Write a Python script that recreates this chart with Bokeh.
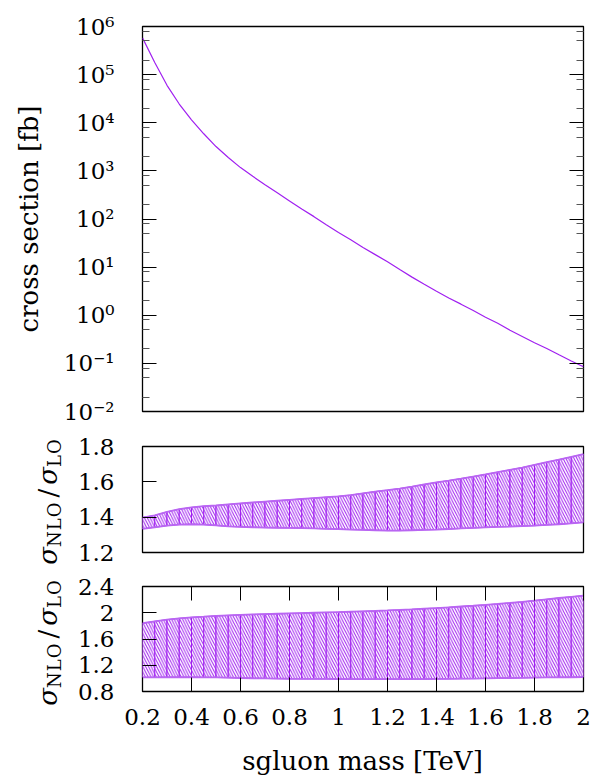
from bokeh.plotting import figure
from bokeh.layouts import column, row
from bokeh.models import FixedTicker, LogAxis, LinearAxis, Range1d, Div
from bokeh.embed import file_html
from bokeh.resources import INLINE

# ---------------- data ----------------
mass = [0.2, 0.25, 0.3, 0.35, 0.4, 0.45, 0.5, 0.55, 0.6, 0.65, 0.7, 0.75, 0.8, 0.85,
        0.9, 0.95, 1.0, 1.05, 1.1, 1.15, 1.2, 1.25, 1.3, 1.35, 1.4, 1.45, 1.5, 1.55,
        1.6, 1.65, 1.7, 1.75, 1.8, 1.85, 1.9, 1.95, 2.0]

xsec_fb = [5.8e5, 1.78e5, 6.0e4, 2.45e4, 1.15e4, 5.9e3, 3.2e3, 1.9e3, 1.17e3, 770,
           515, 350, 238, 162, 112, 76, 52.5, 37.2, 25.7, 18.2, 12.9, 8.9, 6.2, 4.4,
           3.16, 2.29, 1.70, 1.26, 0.91, 0.68, 0.49, 0.363, 0.269, 0.204, 0.151,
           0.112, 0.085]

ratio1_hi = [1.398, 1.41, 1.43, 1.445, 1.455, 1.462, 1.466, 1.472, 1.478, 1.483, 1.488,
             1.493, 1.498, 1.503, 1.508, 1.513, 1.518, 1.525, 1.535, 1.545, 1.553, 1.562,
             1.573, 1.585, 1.597, 1.607, 1.618, 1.630, 1.642, 1.655, 1.668, 1.681, 1.696,
             1.711, 1.726, 1.741, 1.757]
ratio1_lo = [1.334, 1.343, 1.352, 1.358, 1.360, 1.358, 1.353, 1.348, 1.345, 1.343, 1.341,
             1.340, 1.339, 1.338, 1.336, 1.334, 1.332, 1.330, 1.328, 1.326, 1.324, 1.324,
             1.326, 1.328, 1.330, 1.333, 1.336, 1.339, 1.342, 1.345, 1.347, 1.350, 1.352,
             1.356, 1.360, 1.365, 1.371]

ratio2_hi = [1.84, 1.87, 1.895, 1.915, 1.93, 1.94, 1.952, 1.96, 1.968, 1.974, 1.98, 1.985,
             1.99, 1.995, 2.0, 2.005, 2.01, 2.016, 2.022, 2.028, 2.035, 2.043, 2.052,
             2.062, 2.072, 2.083, 2.095, 2.107, 2.12, 2.134, 2.149, 2.165, 2.185, 2.205,
             2.225, 2.243, 2.26]
ratio2_lo = [1.015, 1.016, 1.017, 1.017, 1.017, 1.016, 1.014, 1.010, 1.006, 1.002, 0.999,
             0.996, 0.994, 0.993, 0.992, 0.991, 0.990, 0.989, 0.988, 0.988, 0.988, 0.988,
             0.989, 0.990, 0.991, 0.993, 0.995, 0.997, 1.000, 1.003, 1.006, 1.009, 1.012,
             1.014, 1.016, 1.017, 1.018]

log_ticks = [1e-2, 1e-1, 1, 10, 100, 1e3, 1e4, 1e5, 1e6]
log_tick_labels = ["10⁻²", "10⁻¹", "10⁰", "10¹", "10²", "10³", "10⁴", "10⁵", "10⁶"]
ratio1_ticks = [1.2, 1.4, 1.6, 1.8]
ratio1_tick_labels = ["1.2", "1.4", "1.6", "1.8"]
ratio2_ticks = [0.8, 1.2, 1.6, 2.0, 2.4]
ratio2_tick_labels = ["0.8", "1.2", "1.6", "2", "2.4"]
x_ticks = [0.2, 0.4, 0.6, 0.8, 1.0, 1.2, 1.4, 1.6, 1.8, 2.0]
x_tick_labels = ["0.2", "0.4", "0.6", "0.8", "1", "1.2", "1.4", "1.6", "1.8", "2"]
x_axis_title = "sgluon mass [TeV]"
y_axis_title = "cross section [fb]"
ratio_label_html = ("<i>σ</i><span class='sub'>NLO</span>"
                    "<span class='sl'>/</span>"
                    "<i>σ</i><span class='sub'>LO</span>")

# ---------------- style ----------------
PURPLE = "#a020f0"
EDGE = "#b966f2"
FONT = "DejaVu Serif"
TICK_FS = "23px"
LABEL_FS = "26px"
FRAME_W = 441
LEFT = 142
LAB_W = 70


def style_axis(ax, labels=True):
    ax.axis_line_color = None
    ax.major_tick_in = 14
    ax.major_tick_out = 0
    ax.minor_tick_in = 7
    ax.minor_tick_out = 0
    ax.major_tick_line_color = "black"
    ax.minor_tick_line_color = "#555555"
    ax.major_label_text_font = FONT
    if labels:
        ax.major_label_text_font_size = TICK_FS
        ax.major_label_text_color = "black"
    else:
        ax.major_label_text_font_size = "1px"
        ax.major_label_text_color = None
        ax.major_label_standoff = 0
    ax.axis_label_text_font = FONT
    ax.axis_label_text_font_size = LABEL_FS
    ax.axis_label_text_font_style = "normal"
    ax.axis_label_text_color = "black"


def base_fig(left=LEFT, **kw):
    p = figure(toolbar_location=None, output_backend="svg", frame_width=FRAME_W,
               min_border_left=left, min_border_right=8, **kw)
    p.grid.visible = False
    p.outline_line_color = "black"
    p.outline_line_width = 1.3
    p.background_fill_color = "white"
    p.border_fill_color = "white"
    return p


# ---------------- top panel ----------------
p1 = base_fig(frame_height=385, y_axis_type="log", x_axis_location=None,
              x_range=Range1d(0.2, 2.0), y_range=Range1d(1e-2, 1e6),
              min_border_top=26, min_border_bottom=17)
minor = [m * 10.0 ** e for e in range(-2, 6) for m in (2, 5, 8)]
ax = p1.yaxis[0]
ax.ticker = FixedTicker(ticks=log_ticks, minor_ticks=minor)
style_axis(ax)
ax.major_label_standoff = 28
ax.major_label_overrides = dict(zip(log_ticks, log_tick_labels))
ax.axis_label = y_axis_title
ax.axis_label_standoff = 17
rax = LogAxis(ticker=FixedTicker(ticks=log_ticks, minor_ticks=minor))
style_axis(rax, labels=False)
p1.add_layout(rax, "right")
p1.line(mass, xsec_fb, line_color=PURPLE, line_width=1.2)


def band(p, lo, hi):
    xs = [[mass[i], mass[i + 1], mass[i + 1], mass[i]] for i in range(len(mass) - 1)]
    ys = [[lo[i], lo[i + 1], hi[i + 1], hi[i]] for i in range(len(mass) - 1)]
    p.patches(xs, ys, fill_color="white", line_color=PURPLE, line_width=1,
              hatch_pattern="\\", hatch_color=PURPLE, hatch_scale=5.5, hatch_weight=1)
    p.line(mass, hi, line_color=EDGE, line_width=1.8)
    p.line(mass, lo, line_color=EDGE, line_width=1.8)


def label_div(height):
    css = ("<style>.rl{position:absolute;left:0;top:0;width:140px;height:30px;"
           "line-height:30px;text-align:center;white-space:nowrap;"
           "font-family:'DejaVu Serif';font-size:26px;color:black;"
           "transform-origin:0 0;transform:translate(33px,143.5px) rotate(-90deg);}"
           ".rl .sub{font-size:18px;position:relative;top:4px;letter-spacing:1px;}"
           ".rl .sl{padding:0 4px;}</style>")
    html = (css + f"<div style='position:relative;width:{LAB_W}px;height:{height}px;"
            f"overflow:visible;'><div class='rl'>{ratio_label_html}</div></div>")
    return Div(text=html, width=LAB_W, height=height, margin=0)


# ---------------- middle panel ----------------
p2 = base_fig(left=LEFT - LAB_W, frame_height=106, x_axis_location=None,
              x_range=p1.x_range, y_range=Range1d(1.2, 1.8),
              min_border_top=18, min_border_bottom=17)
ax = p2.yaxis[0]
ax.ticker = FixedTicker(ticks=ratio1_ticks)
style_axis(ax)
ax.major_label_standoff = 28
ax.major_label_overrides = dict(zip(ratio1_ticks, ratio1_tick_labels))
band(p2, ratio1_lo, ratio1_hi)
lab2 = label_div(18 + 106 + 17)

# ---------------- bottom panel ----------------
p3 = base_fig(left=LEFT - LAB_W, frame_height=105, x_range=p1.x_range,
              y_range=Range1d(0.8, 2.4), min_border_top=17, min_border_bottom=50)
ax = p3.yaxis[0]
ax.ticker = FixedTicker(ticks=ratio2_ticks)
style_axis(ax)
ax.major_label_standoff = 28
ax.major_label_overrides = dict(zip(ratio2_ticks, ratio2_tick_labels))
bx = p3.xaxis[0]
bx.ticker = FixedTicker(ticks=x_ticks)
style_axis(bx)
bx.major_label_standoff = 17
bx.major_label_overrides = dict(zip(x_ticks, x_tick_labels))
tax = LinearAxis(ticker=FixedTicker(ticks=x_ticks))
style_axis(tax, labels=False)
p3.add_layout(tax, "above")
band(p3, ratio2_lo, ratio2_hi)
lab3 = label_div(17 + 105 + 50)

# x-axis title (placed as a text strip under the bottom panel)
xtitle = Div(
    text=("<div style='position:relative;width:585px;height:35px;overflow:hidden;'>"
          f"<div style='position:absolute;left:{LEFT}px;width:{FRAME_W}px;top:5px;"
          "text-align:center;white-space:nowrap;font-family:\"DejaVu Serif\";"
          f"font-size:26px;line-height:30px;color:black;'>{x_axis_title}</div></div>"),
    width=585, height=35, margin=0)

layout = column(p1, row(lab2, p2, spacing=0), row(lab3, p3, spacing=0), xtitle,
                spacing=0)
open("out.html", "w").write(file_html(layout, INLINE))
